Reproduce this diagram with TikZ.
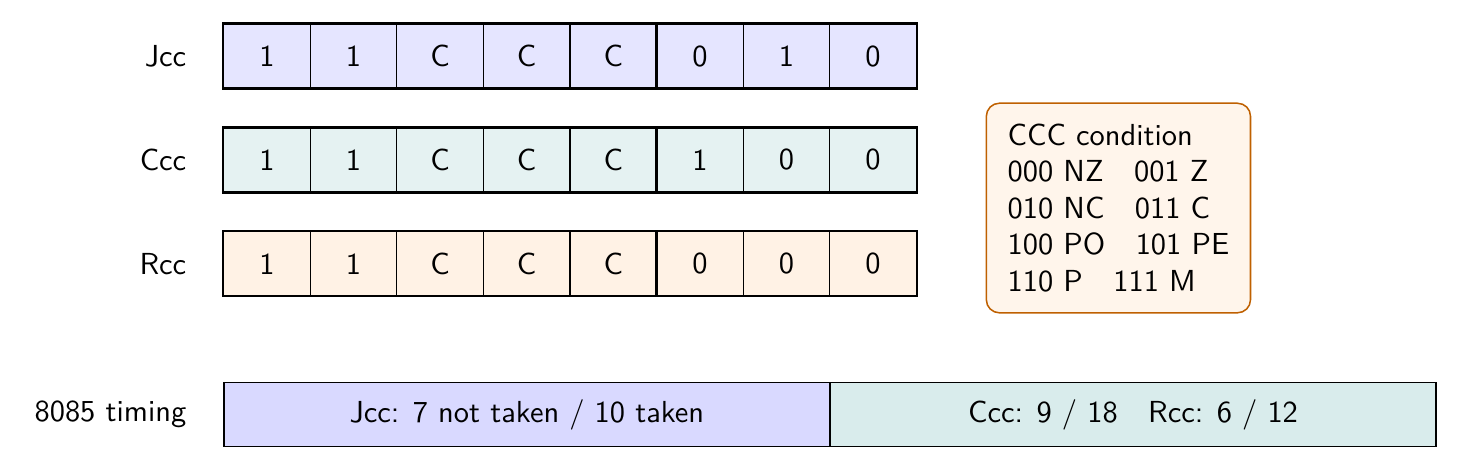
\documentclass[tikz,border=0pt]{standalone}
\usetikzlibrary{positioning}
\renewcommand{\familydefault}{\sfdefault}
\begin{document}
\begin{tikzpicture}[x=1cm,y=1cm,
  cell/.style={draw, line width=0.4pt, minimum width=1cm, minimum height=0.74cm, inner sep=0pt, anchor=west},
  grp/.style={draw, line width=0.6pt},
  rowlabel/.style={anchor=east},
  infobox/.style={draw=orange!75!black, fill=orange!8, rounded corners=0.15cm, align=left, inner sep=0pt, line width=0.5pt, minimum width=3.05cm, minimum height=2.42cm},
  tbar/.style={draw, line width=0.5pt, minimum width=7cm, minimum height=0.74cm, inner sep=0pt, anchor=west}
]
\useasboundingbox (-2.575,0.647) rectangle (14.296,-4.815);
% Jcc row
\foreach \b [count=\i from 0] in {1,1,C,C,C,0,1,0}
  \node[cell, fill=blue!10] (j\i) at (\i,0) {\b};
\node[rowlabel] (lj) at (-0.3,0) {Jcc};
\draw[grp] (j0.north west) rectangle (j4.south east);
\draw[grp] (j5.north west) rectangle (j7.south east);
% Ccc row
\foreach \b [count=\i from 0] in {1,1,C,C,C,1,0,0}
  \node[cell, fill=teal!10] (c\i) at (\i,-1.2) {\b};
\node[rowlabel] (lc) at (-0.3,-1.2) {Ccc};
\draw[grp] (c0.north west) rectangle (c4.south east);
\draw[grp] (c5.north west) rectangle (c7.south east);
% Rcc row
\foreach \b [count=\i from 0] in {1,1,C,C,C,0,0,0}
  \node[cell, fill=orange!10] (r\i) at (\i,-2.4) {\b};
\node[rowlabel] (lr) at (-0.3,-2.4) {Rcc};
\draw[grp] (r0.north west) rectangle (r4.south east);
\draw[grp] (r5.north west) rectangle (r7.south east);
% condition box
\node[infobox] (cond) at (10.34,-1.755) {CCC condition\\000 NZ\quad 001 Z\\010 NC\quad 011 C\\100 PO\quad 101 PE\\110 P\quad 111 M};
% timing
\node[rowlabel] (lt) at (-0.3,-4.14) {8085 timing};
\node[tbar, fill=blue!15] (t1) at (0,-4.14) {Jcc: 7 not taken / 10 taken};
\node[tbar, fill=teal!15] (t2) at (7,-4.14) {Ccc: 9 / 18\quad Rcc: 6 / 12};
\end{tikzpicture}
\end{document}
